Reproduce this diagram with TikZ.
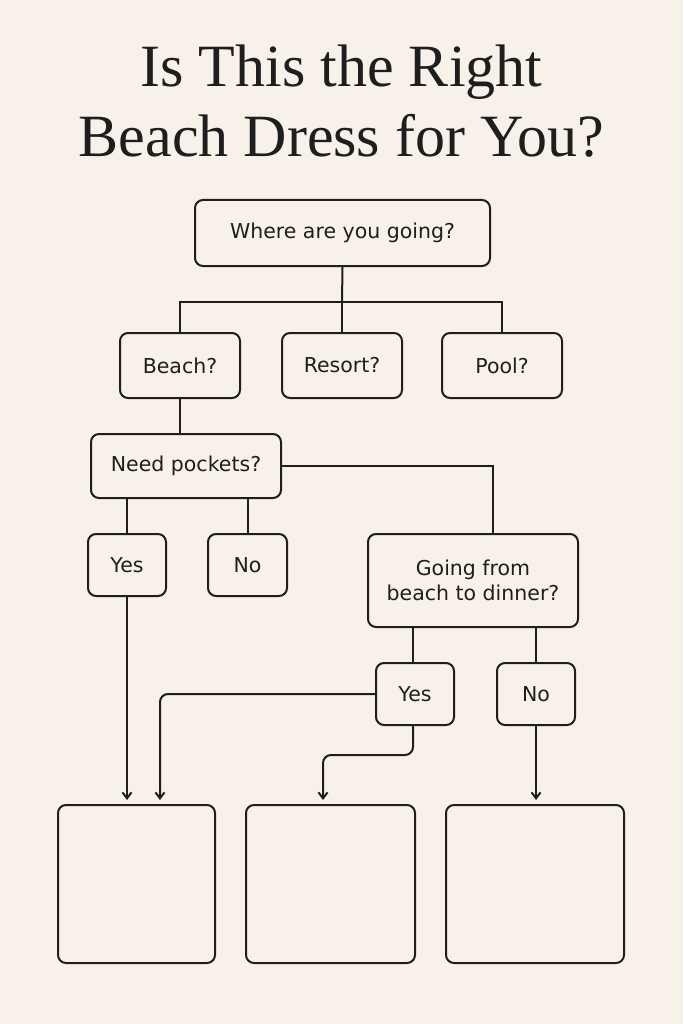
\documentclass[tikz,border=0pt]{standalone}
\usepackage{fontspec}
\setmainfont{DejaVu Sans}
\newfontfamily\titlefont{Liberation Serif}
\usetikzlibrary{arrows.meta}
\definecolor{bg}{HTML}{F8F1EA}
\definecolor{ink}{HTML}{1E1E1E}
\begin{document}
\begin{tikzpicture}[x=1pt,y=-1pt,
  box/.style={draw=ink,line width=2pt,rounded corners=8pt,inner sep=0pt,font=\fontsize{20.5}{25}\selectfont,text=ink,align=center},
  ln/.style={draw=ink,line width=2pt},
  arr/.style={ln,-{Straight Barb[length=6pt,width=9pt]}}]
\fill[bg] (0,0) rectangle (683,1024);
\useasboundingbox (0,0) rectangle (683,1024);
\node[text=ink,font=\titlefont\fontsize{60}{70}\selectfont] (t1) at (341.5,72) {Is This the Right};
\node[text=ink,font=\titlefont\fontsize{60}{70}\selectfont] (t2) at (341.5,136) {Beach Dress for You?};
\node[box,minimum width=295pt,minimum height=66pt] (where) at (342.5,233) {Where are you going?};
\node[box,minimum width=120pt,minimum height=65pt] (beach) at (180,365.5) {Beach?};
\node[box,minimum width=120pt,minimum height=65pt] (resort) at (342,365.5) {Resort?};
\node[box,minimum width=120pt,minimum height=65pt] (pool) at (502,365.5) {Pool?};
\node[box,minimum width=190pt,minimum height=64pt] (pock) at (186,466) {Need pockets?};
\node[box,minimum width=78pt,minimum height=62pt] (yes1) at (127,565) {Yes};
\node[box,minimum width=79pt,minimum height=62pt] (no1) at (247.5,565) {No};
\node[box,minimum width=210pt,minimum height=93pt] (go) at (473,580.5) {Going from\\beach to dinner?};
\node[box,minimum width=78pt,minimum height=62pt] (yes2) at (415,694) {Yes};
\node[box,minimum width=78pt,minimum height=62pt] (no2) at (536,694) {No};
\node[box,minimum width=157pt,minimum height=158pt] (r1) at (136.5,884) {};
\node[box,minimum width=169pt,minimum height=158pt] (r2) at (330.5,884) {};
\node[box,minimum width=178pt,minimum height=158pt] (r3) at (535,884) {};
\coordinate (j) at (342,302);
\draw[ln] (where.south) -- (j);
\draw[ln] (beach.north) |- (j) -| (pool.north);
\draw[ln] (j) -- (resort.north);
\draw[ln] (beach.south) -- (beach.south |- pock.north);
\draw[ln] (pock.east) -| (go.north -| 493,0);
\draw[ln] (pock.south -| yes1.north) -- (yes1.north);
\draw[ln] (pock.south -| no1.north) -- (no1.north);
\draw[ln] (go.south -| 413,0) -- (yes2.north -| 413,0);
\draw[ln] (go.south -| no2.north) -- (no2.north);
\draw[arr] (yes1.south) -- (yes1.south |- 0,800);
\draw[arr,rounded corners=8pt] (yes2.west) -| (160,800);
\draw[arr,rounded corners=8pt] (yes2.south -| 413,0) -- (413,755) -| (323,800);
\draw[arr] (no2.south) -- (no2.south |- 0,800);
\end{tikzpicture}
\end{document}
